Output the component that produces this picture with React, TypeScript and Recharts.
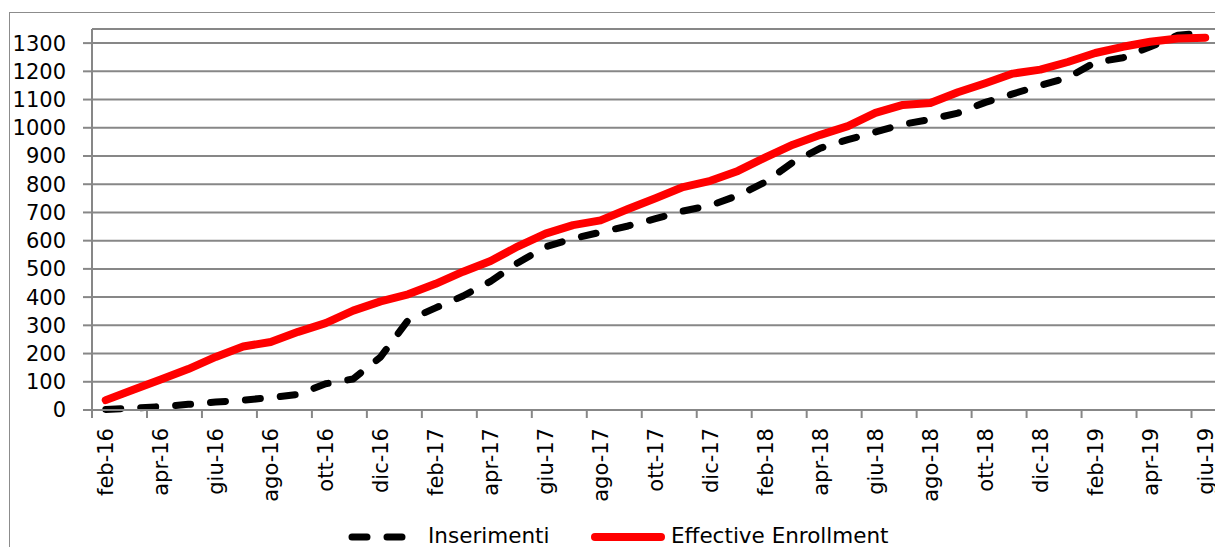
import React from "react";
import { LineChart, Line, XAxis, YAxis, CartesianGrid } from "recharts";

const months = [
  "feb-16", "mar-16", "apr-16", "mag-16", "giu-16", "lug-16", "ago-16", "set-16", "ott-16", "nov-16", "dic-16",
  "gen-17", "feb-17", "mar-17", "apr-17", "mag-17", "giu-17", "lug-17", "ago-17", "set-17", "ott-17", "nov-17", "dic-17",
  "gen-18", "feb-18", "mar-18", "apr-18", "mag-18", "giu-18", "lug-18", "ago-18", "set-18", "ott-18", "nov-18", "dic-18",
  "gen-19", "feb-19", "mar-19", "apr-19", "mag-19", "giu-19",
];

const inserimenti = [
  2, 7, 12, 20, 28, 35, 44, 55, 93, 110,
  188, 318, 362, 404, 456, 522, 578, 607, 630, 652,
  678, 705, 725, 760, 808, 878, 928, 958, 985, 1012,
  1030, 1052, 1090, 1120, 1150, 1178, 1232, 1248, 1287, 1328, 1336,
];

const effectiveEnrollment = [
  35, 72, 108, 145, 188, 225, 241, 277, 308, 352,
  385, 410, 447, 490, 528, 580, 625, 655, 672, 712,
  750, 790, 812, 847, 895, 940, 975, 1006, 1053, 1081,
  1088, 1126, 1158, 1192, 1206, 1233, 1265, 1287, 1305, 1316, 1319,
];

const yTicks = [0, 100, 200, 300, 400, 500, 600, 700, 800, 900, 1000, 1100, 1200, 1300];

const data = months.map((m, i) => ({
  month: m,
  inserimenti: inserimenti[i],
  effective: effectiveEnrollment[i],
}));

const W = 1219;
const H = 547;
const PLOT_LEFT = 92;
const PLOT_TOP = 29;
const PLOT_BOTTOM = 410;
const BAND = (W - PLOT_LEFT) / months.length;
const GRID = "#878787";
const FONT = "'DejaVu Sans', sans-serif";

const XTick = ({ x, payload }: any) => {
  const ty = PLOT_BOTTOM + 18;
  return (
    <g>
      <line x1={x - BAND / 2} x2={x - BAND / 2} y1={PLOT_BOTTOM} y2={PLOT_BOTTOM + 8} stroke={GRID} strokeWidth={2} />
      <text
        x={x}
        y={ty}
        dy="0.36em"
        textAnchor="end"
        transform={`rotate(-90 ${x} ${ty})`}
        fontSize={21}
        fontFamily={FONT}
        fill="#000"
      >
        {payload.value}
      </text>
    </g>
  );
};

export default function App() {
  return (
    <div style={{ position: "fixed", left: 0, top: 0, width: 1215, height: 547, overflow: "hidden", background: "#fff" }}>
      <div style={{ position: "absolute", left: 9, top: 12, width: 1300, height: 700, border: "1px solid #8c8c8c" }} />
      <div style={{ position: "absolute", left: 0, top: 0 }}>
        <LineChart width={W} height={H} data={data} margin={{ top: PLOT_TOP, right: 0, bottom: 0, left: 0 }}>
          <CartesianGrid vertical={false} stroke={GRID} strokeWidth={2} />
          <XAxis
            dataKey="month"
            interval={1}
            height={H - PLOT_BOTTOM}
            tickLine={false}
            tickSize={0}
            padding={{ left: BAND / 2, right: BAND / 2 }}
            axisLine={{ stroke: GRID, strokeWidth: 2 }}
            tick={<XTick />}
          />
          <YAxis
            type="number"
            domain={[0, 1350]}
            ticks={yTicks}
            interval={0}
            width={PLOT_LEFT}
            tickSize={9}
            tickMargin={17}
            tickLine={{ stroke: GRID, strokeWidth: 2 }}
            axisLine={{ stroke: GRID, strokeWidth: 2 }}
            tick={{ fontSize: 21, fontFamily: FONT, fill: "#000" }}
          />
          <Line
            type="linear"
            dataKey="inserimenti"
            stroke="#000"
            strokeWidth={7}
            strokeDasharray="15 20"
            strokeLinecap="round"
            strokeLinejoin="round"
            dot={false}
            isAnimationActive={false}
          />
          <Line
            type="linear"
            dataKey="effective"
            stroke="#ff0000"
            strokeWidth={8}
            strokeLinecap="round"
            strokeLinejoin="round"
            dot={false}
            isAnimationActive={false}
          />
        </LineChart>
      </div>
      <svg width={1215} height={547} style={{ position: "absolute", left: 0, top: 0, pointerEvents: "none" }}>
        <line x1={352} x2={406} y1={537} y2={537} stroke="#000" strokeWidth={7} strokeDasharray="15 20" strokeLinecap="round" />
        <text x={428} y={543} fontSize={21.5} fontFamily={FONT} fill="#000">Inserimenti</text>
        <line x1={595} x2={661} y1={537} y2={537} stroke="#ff0000" strokeWidth={8} strokeLinecap="round" />
        <text x={671} y={543} fontSize={21.5} fontFamily={FONT} fill="#000">Effective Enrollment</text>
      </svg>
    </div>
  );
}
